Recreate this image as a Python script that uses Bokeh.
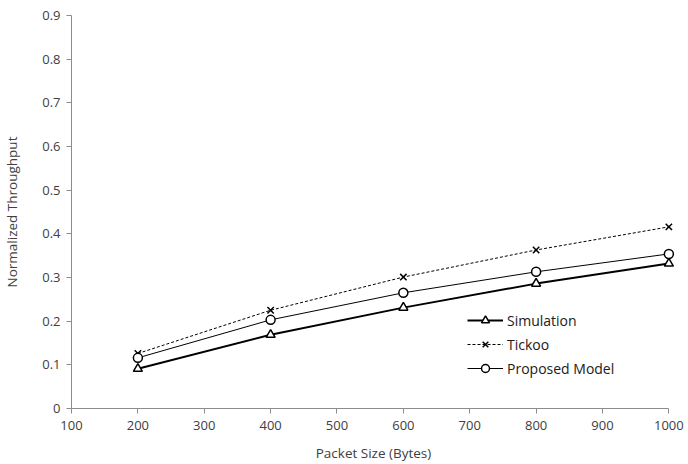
from bokeh.plotting import figure
from bokeh.models import Range1d, FixedTicker, Legend, LegendItem, CustomJSTickFormatter
from bokeh.embed import file_html
from bokeh.resources import INLINE

packet_size = [200, 400, 600, 800, 1000]
simulation = [0.091, 0.169, 0.231, 0.286, 0.332]
tickoo = [0.126, 0.225, 0.301, 0.363, 0.416]
proposed = [0.116, 0.203, 0.265, 0.313, 0.354]
x_ticks = [100, 200, 300, 400, 500, 600, 700, 800, 900, 1000]
y_ticks = [0, 0.1, 0.2, 0.3, 0.4, 0.5, 0.6, 0.7, 0.8, 0.9]

FONT = "Open Sans"
p = figure(width=688, height=464, output_backend="svg", toolbar_location=None,
           x_range=Range1d(100, 1010), y_range=Range1d(0, 0.9),
           min_border_left=69, min_border_right=13, min_border_top=15, min_border_bottom=55)
p.outline_line_color = None
p.xgrid.grid_line_color = None
p.ygrid.grid_line_color = None
p.background_fill_color = "white"

for ax in (p.xaxis[0], p.yaxis[0]):
    ax.axis_line_color = "#8c8c8c"
    ax.major_tick_line_color = "#8c8c8c"
    ax.minor_tick_line_color = None
    ax.major_tick_out = 5
    ax.major_tick_in = 0
    ax.major_label_text_font = FONT
    ax.major_label_text_font_size = "13px"
    ax.major_label_text_color = "#404040"
    ax.axis_label_text_font = FONT
    ax.axis_label_text_font_size = "13.5px"
    ax.axis_label_text_font_style = "normal"
    ax.axis_label_text_color = "#404040"

p.xaxis.bounds = (100, 1000)
p.xaxis.ticker = FixedTicker(ticks=x_ticks)
p.yaxis.ticker = FixedTicker(ticks=y_ticks)
p.yaxis.formatter = CustomJSTickFormatter(code="return tick === 0 ? '0' : tick.toFixed(1);")
p.xaxis.axis_label = "Packet Size (Bytes)"
p.yaxis.axis_label = "Normalized Throughput"
p.xaxis.major_label_standoff = 7
p.yaxis.major_label_standoff = 6
p.xaxis.axis_label_standoff = 11
p.yaxis.axis_label_standoff = 18

l1 = p.line(packet_size, simulation, line_color="black", line_width=2)
m1 = p.scatter(packet_size, simulation, marker="triangle", size=9, fill_color="white",
               line_color="black", line_width=1.5)
l2 = p.line(packet_size, tickoo, line_color="black", line_width=1, line_dash="3 2")
m2 = p.scatter(packet_size, tickoo, marker="x", size=9, line_color="black", line_width=1.5)
l3 = p.line(packet_size, proposed, line_color="black", line_width=1)
m3 = p.scatter(packet_size, proposed, marker="circle", size=9, fill_color="white",
               line_color="black", line_width=1.5)

legend = Legend(items=[
    LegendItem(label="Simulation", renderers=[l1, m1]),
    LegendItem(label="Tickoo", renderers=[l2, m2]),
    LegendItem(label="Proposed Model", renderers=[l3, m3]),
], location=(396, 30))
legend.border_line_color = None
legend.background_fill_alpha = 0
legend.label_text_font = FONT
legend.label_text_font_size = "14px"
legend.label_text_color = "#202020"
legend.glyph_width = 36
legend.spacing = 4
legend.label_standoff = 4
p.add_layout(legend, "center")

open("out.html", "w").write(file_html(p, INLINE))
